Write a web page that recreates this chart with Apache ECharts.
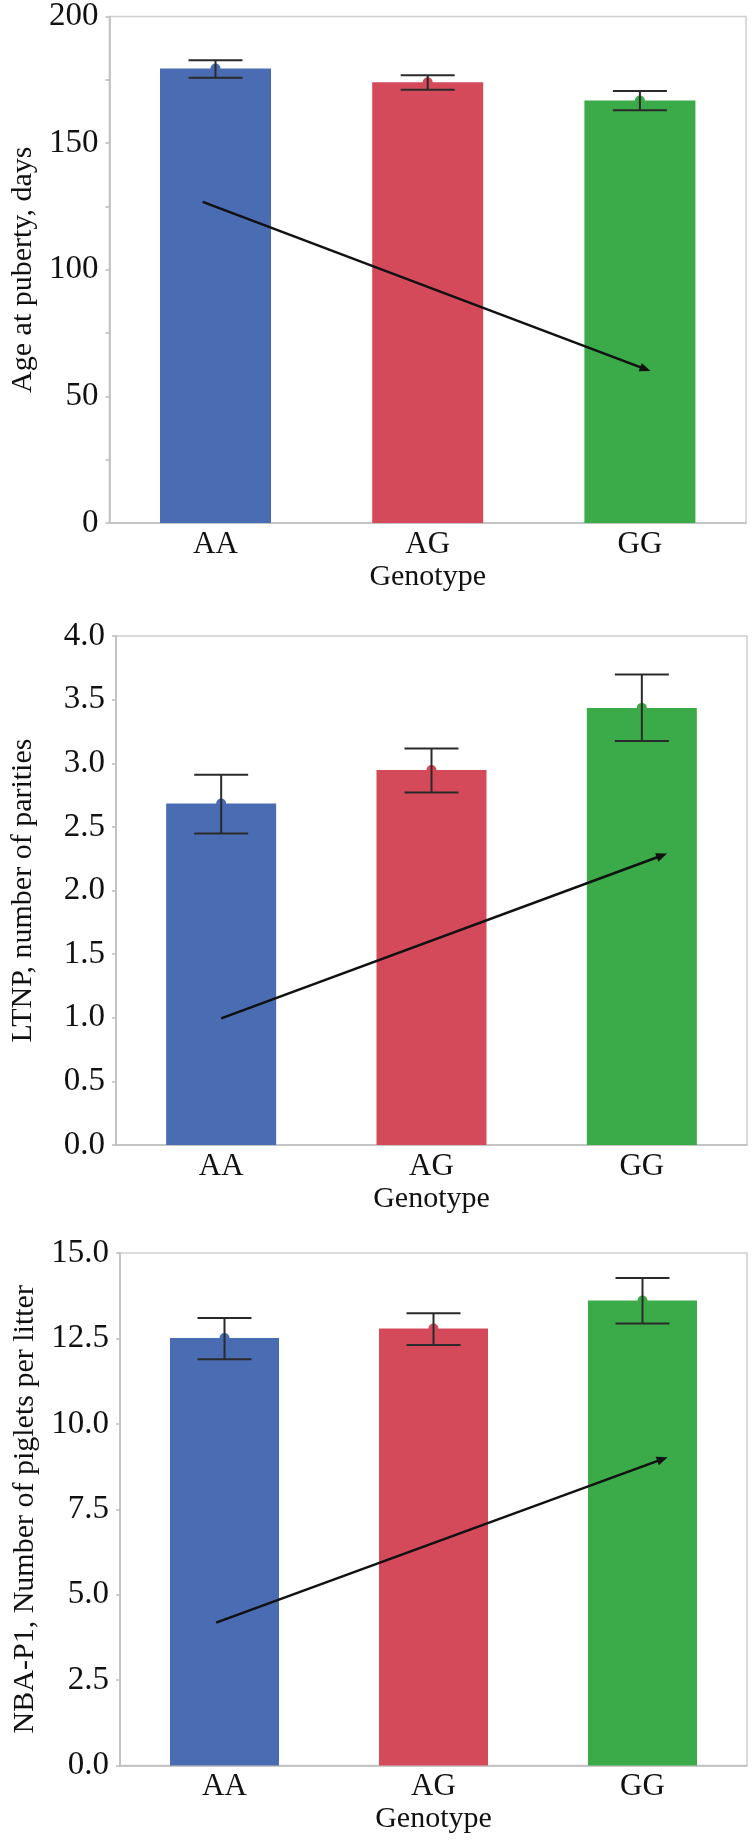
<!DOCTYPE html>
<html>
<head>
<meta charset="utf-8">
<script src="https://cdn.jsdelivr.net/npm/echarts@6/dist/echarts.min.js"></script>
<style>
html,body{margin:0;padding:0;background:#fff;}
#chart{width:755px;height:1843px;}
</style>
</head>
<body>
<div id="chart"></div>
<script>
// ---- data ----
const categories = ['AA', 'AG', 'GG'];
const barColors = ['#4a6cb3', '#d44a5a', '#3bab4a'];

const pubertyMean = [179.5, 174.0, 166.8];
const pubertyLow  = [175.8, 171.1, 163.0];
const pubertyHigh = [182.7, 176.8, 170.6];
const pubertyArrow = [-0.06, 126.8, 2.05, 60.0];   // x1, y1, x2, y2 (x in category index units)
const pubertyTicks = [0, 50, 100, 150, 200];

const ltnpMean = [2.683, 2.947, 3.435];
const ltnpLow  = [2.447, 2.770, 3.174];
const ltnpHigh = [2.910, 3.115, 3.697];
const ltnpArrow = [0.0, 0.995, 2.12, 2.29];
const ltnpTicks = [0, 0.5, 1, 1.5, 2, 2.5, 3, 3.5, 4];

const nbaMean = [12.51, 12.79, 13.61];
const nbaLow  = [11.89, 12.31, 12.94];
const nbaHigh = [13.10, 13.24, 14.27];
const nbaArrow = [-0.04, 4.18, 2.12, 9.02];
const nbaTicks = [0, 2.5, 5, 7.5, 10, 12.5, 15];

const yNames = ['Age at puberty, days', 'LTNP, number of parities', 'NBA-P1, Number of piglets per litter'];
const xName = 'Genotype';

// ---- layout ----
const FONT = 'Liberation Serif';
const panels = [
  {top: 11, height: 512, left: 107, right: 9, ticks: pubertyTicks, interval: 50, minor: true, dec: 0, nameGap: 70,
   mean: pubertyMean, low: pubertyLow, high: pubertyHigh, arrow: pubertyArrow, barW: 111},
  {top: 636, height: 509, left: 113, right: 8, ticks: ltnpTicks, interval: 0.5, minor: false, dec: 1, nameGap: 78,
   mean: ltnpMean, low: ltnpLow, high: ltnpHigh, arrow: ltnpArrow, barW: 110},
  {top: 1253, height: 512.5, left: 120, right: 8, ticks: nbaTicks, interval: 2.5, minor: false, dec: 1, nameGap: 79,
   mean: nbaMean, low: nbaLow, high: nbaHigh, arrow: nbaArrow, barW: 109}
];

const grid = [], xAxis = [], yAxis = [], series = [];
const axisColor = '#bdbdbd';

panels.forEach((p, i) => {
  grid.push({left: p.left, right: p.right, top: p.top, height: p.height,
             show: true, borderColor: '#cfcfcf', borderWidth: 1.5, backgroundColor: '#fff'});
  // category axis
  xAxis.push({type: 'category', gridIndex: i, data: categories,
    axisLine: {onZero: false, lineStyle: {color: axisColor, width: 1.5}},
    axisTick: {show: false},
    axisLabel: {color: '#111', fontFamily: FONT, fontSize: 31, margin: 6},
    name: xName, nameLocation: 'middle', nameGap: 39,
    nameTextStyle: {color: '#111', fontFamily: FONT, fontSize: 30}
  });
  const lo = p.ticks[0], hi = p.ticks[p.ticks.length - 1];
  yAxis.push({type: 'value', gridIndex: i, min: lo, max: hi, interval: p.interval,
    axisLine: {show: true, onZero: false, lineStyle: {color: axisColor, width: 1.5}},
    axisTick: {show: true, length: 4, lineStyle: {color: axisColor, width: 1.5}},
    minorTick: {show: p.minor, splitNumber: 2, length: 4, lineStyle: {color: axisColor, width: 1.5}},
    splitLine: {show: false},
    axisLabel: {color: '#111', fontFamily: FONT, fontSize: 33, margin: 11,
      formatter: v => Number(v).toFixed(p.dec)},
    name: yNames[i], nameLocation: 'middle', nameGap: p.nameGap, nameRotate: 90,
    nameTextStyle: {color: '#111', fontFamily: FONT, fontSize: 30}
  });
});
// hidden value x axes for arrows
panels.forEach((p, i) => {
  xAxis.push({type: 'value', gridIndex: i, min: -0.5, max: 2.5, show: false,
    axisLine: {onZero: false}});
});

function errRender(params, api) {
  const x = api.value(0);
  const pLo = api.coord([x, api.value(1)]);
  const pHi = api.coord([x, api.value(2)]);
  const half = 27;
  const st = {stroke: '#2a2a2a', lineWidth: 2};
  return {type: 'group', children: [
    {type: 'line', shape: {x1: pLo[0], y1: pLo[1], x2: pHi[0], y2: pHi[1]}, style: st},
    {type: 'line', shape: {x1: pHi[0] - half, y1: pHi[1], x2: pHi[0] + half, y2: pHi[1]}, style: st},
    {type: 'line', shape: {x1: pLo[0] - half, y1: pLo[1], x2: pLo[0] + half, y2: pLo[1]}, style: st}
  ]};
}

function arrowRender(params, api) {
  const a = api.coord([api.value(0), api.value(1)]);
  const b = api.coord([api.value(2), api.value(3)]);
  const dx = b[0] - a[0], dy = b[1] - a[1];
  const len = Math.sqrt(dx * dx + dy * dy);
  const ux = dx / len, uy = dy / len;
  const hl = 11, hw = 4.5;
  const bx = b[0] - ux * hl, by = b[1] - uy * hl;
  return {type: 'group', children: [
    {type: 'line', shape: {x1: a[0], y1: a[1], x2: bx + ux * 2, y2: by + uy * 2},
     style: {stroke: '#111', lineWidth: 2.5}},
    {type: 'polygon', shape: {points: [[b[0], b[1]], [bx - uy * hw, by + ux * hw], [bx + uy * hw, by - ux * hw]]},
     style: {fill: '#111'}}
  ]};
}

panels.forEach((p, i) => {
  series.push({type: 'bar', xAxisIndex: i, yAxisIndex: i, barWidth: p.barW,
    data: p.mean.map((v, k) => ({value: v, itemStyle: {color: barColors[k]}})),
    silent: true, z: 2});
  series.push({type: 'scatter', xAxisIndex: i, yAxisIndex: i, symbol: 'circle', symbolSize: 10,
    data: p.mean.map((v, k) => ({value: [k, v], itemStyle: {color: barColors[k], opacity: 1}})),
    silent: true, z: 3});
  series.push({type: 'custom', xAxisIndex: i, yAxisIndex: i, renderItem: errRender,
    data: p.mean.map((v, k) => [k, p.low[k], p.high[k]]),
    encode: {x: 0, y: [1, 2]}, silent: true, z: 4});
  series.push({type: 'custom', xAxisIndex: 3 + i, yAxisIndex: i, renderItem: arrowRender,
    dimensions: ['x1', 'y1', 'x2', 'y2'],
    data: [p.arrow], encode: {x: [0, 2], y: [1, 3]}, silent: true, z: 5});
});

const chart = echarts.init(document.getElementById('chart'), null, {renderer: 'canvas'});
chart.setOption({
  backgroundColor: '#ffffff',
  animation: false,
  textStyle: {fontFamily: FONT},
  grid, xAxis, yAxis, series
});
</script>
</body>
</html>
